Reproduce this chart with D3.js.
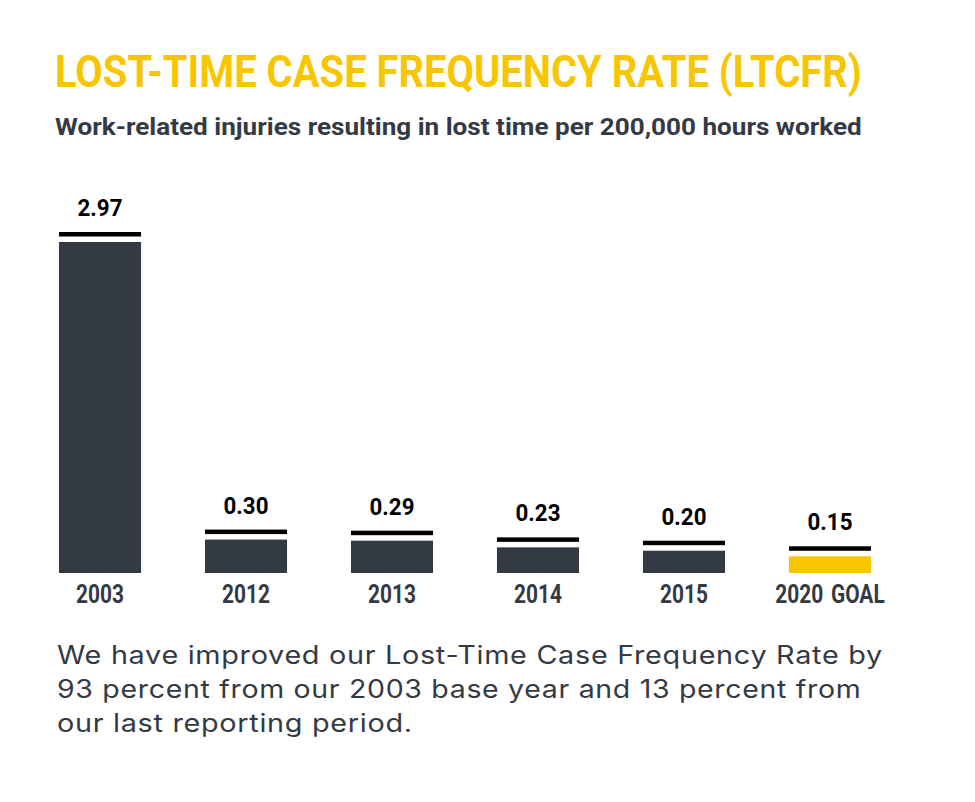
<!DOCTYPE html>
<html>
<head>
<meta charset="utf-8">
<script src="https://cdn.jsdelivr.net/npm/d3@7"></script>
<style>
  html, body { margin: 0; padding: 0; background: #ffffff; }
  svg { display: block; }
</style>
</head>
<body>
<svg id="chart" width="975" height="802"></svg>
<script>
const categories = ["2003", "2012", "2013", "2014", "2015", "2020 GOAL"];
const values = [2.97, 0.30, 0.29, 0.23, 0.20, 0.15];
const valueLabels = ["2.97", "0.30", "0.29", "0.23", "0.20", "0.15"];
const isGoal = [false, false, false, false, false, true];

const titleText = "LOST-TIME CASE FREQUENCY RATE (LTCFR)";
const subtitleText = "Work-related injuries resulting in lost time per 200,000 hours worked";
const noteLines = [
  "We have improved our Lost-Time Case Frequency Rate by",
  "93 percent from our 2003 base year and 13 percent from",
  "our last reporting period."
];

const condensed = "Roboto, 'Liberation Sans', sans-serif";
const bodyFont = "Inter, 'Open Sans', 'Noto Sans', sans-serif";
const dark = "#343a44";
const yellow = "#f7c600";

const svg = d3.select("#chart");

// horizontally scale a text placed at (x,y) so its width matches target
function squeeze(sel, x, y, target) {
  const w = sel.node().getComputedTextLength();
  const sx = w > 0 ? target / w : 1;
  sel.attr("x", 0).attr("y", 0)
     .attr("transform", `translate(${x},${y}) scale(${sx},1)`);
  return sx;
}

// Title
const title = svg.append("text")
  .attr("font-family", condensed).attr("font-weight", "bold")
  .attr("font-size", 45).attr("fill", yellow)
  .text(titleText);
squeeze(title, 55, 87, 807);

const sub = svg.append("text")
  .attr("font-family", condensed).attr("font-weight", "bold")
  .attr("font-size", 24).attr("fill", dark)
  .text(subtitleText);
squeeze(sub, 55, 135, 807);

// Scales
const x = d3.scaleBand()
  .domain(categories)
  .range([59, 871])
  .paddingInner(0.438)
  .paddingOuter(0);

const y = d3.scaleLinear()
  .domain([0, 2.97])
  .range([573, 242]);

const data = categories.map((c, i) => ({ c, v: values[i], label: valueLabels[i], goal: isGoal[i] }));

const g = svg.append("g");

g.selectAll("rect.bar").data(data).join("rect")
  .attr("class", "bar")
  .attr("x", d => x(d.c))
  .attr("width", x.bandwidth())
  .attr("y", d => y(d.v))
  .attr("height", d => y(0) - y(d.v))
  .attr("fill", d => d.goal ? yellow : dark);

g.selectAll("rect.cap").data(data).join("rect")
  .attr("class", "cap")
  .attr("x", d => x(d.c))
  .attr("width", x.bandwidth())
  .attr("y", d => y(d.v) - 10)
  .attr("height", 4.5)
  .attr("fill", "#000");

// value labels: compute squeeze factor from a reference label
const probe = svg.append("text")
  .attr("font-family", condensed).attr("font-weight", "bold")
  .attr("font-size", 24).text("0.23");
const valSx = 45 / probe.node().getComputedTextLength();
probe.remove();

g.selectAll("text.val").data(data).join("text")
  .attr("class", "val")
  .attr("transform", d => `translate(${x(d.c) + x.bandwidth() / 2},${y(d.v) - 26}) scale(${valSx},1)`)
  .attr("text-anchor", "middle")
  .attr("font-family", condensed).attr("font-weight", "bold")
  .attr("font-size", 24).attr("fill", "#000")
  .text(d => d.label);

// category axis labels
const probe2 = svg.append("text")
  .attr("font-family", condensed).attr("font-weight", "bold")
  .attr("font-size", 25).text("2003");
const catSx = 48 / probe2.node().getComputedTextLength();
probe2.remove();

const xAxis = d3.axisBottom(x).tickSize(0).tickPadding(0);
const ax = svg.append("g").attr("transform", "translate(0,586)").call(xAxis);
ax.select(".domain").remove();
ax.selectAll("text")
  .attr("dy", "0")
  .attr("y", 0)
  .attr("transform", `translate(0,17) scale(${catSx},1)`)
  .attr("font-family", condensed).attr("font-weight", "bold")
  .attr("font-size", 25).attr("fill", dark)
  .attr("word-spacing", 3);

// Note
const noteWidths = [826, 805, 356];
noteLines.forEach((t, i) => {
  const tx = svg.append("text")
    .attr("font-family", bodyFont)
    .attr("font-size", 25).attr("fill", dark)
    .attr("letter-spacing", 0.6)
    .text(t);
  squeeze(tx, 57, 664 + i * 34, noteWidths[i]);
});
</script>
</body>
</html>
